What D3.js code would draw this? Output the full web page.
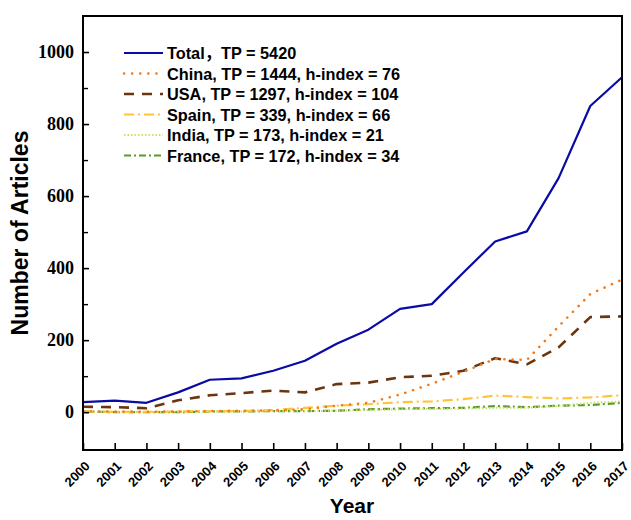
<!DOCTYPE html>
<html>
<head>
<meta charset="utf-8">
<script src="https://cdn.jsdelivr.net/npm/d3@7"></script>
<style>
  html, body { margin: 0; padding: 0; background: #fff; }
  svg { display: block; }
</style>
</head>
<body>
<svg id="chart" width="631" height="520"></svg>
<script>
// Publication counts per year, 2000–2017
const years = [2000, 2001, 2002, 2003, 2004, 2005, 2006, 2007, 2008, 2009,
               2010, 2011, 2012, 2013, 2014, 2015, 2016, 2017];

const total  = [28, 32, 26, 55, 90, 94, 115, 143, 190, 229, 287, 300, 388, 474, 502, 650, 850, 930];
const china  = [2, 2, 1, 2, 3, 4, 5, 8, 18, 26, 49, 79, 112, 148, 145, 238, 328, 368];
const usa    = [15, 14, 11, 33, 47, 53, 60, 55, 78, 82, 97, 101, 115, 150, 133, 180, 264, 266];
const spain  = [2, 1, 1, 2, 3, 3, 6, 12, 18, 22, 28, 30, 36, 46, 42, 38, 41, 47];
const india  = [0, 1, 0, 1, 2, 2, 3, 3, 4, 6, 8, 9, 10, 12, 12, 17, 26, 30];
const france = [2, 0, 0, 0, 2, 2, 3, 3, 4, 8, 10, 11, 12, 17, 14, 18, 20, 26];

const seriesLabels = [
  "Total\uFF0CTP = 5420",
  "China, TP = 1444, h-index = 76",
  "USA, TP = 1297, h-index = 104",
  "Spain, TP = 339, h-index = 66",
  "India, TP = 173, h-index = 21",
  "France, TP = 172, h-index = 34"
];

const yTickValues = [0, 200, 400, 600, 800, 1000];
const yMinorValues = [100, 300, 500, 700, 900];

const series = [
  { name: seriesLabels[0], values: total,  color: "#0a0aa5", width: 2.2, dash: null,        cap: "butt" },
  { name: seriesLabels[1], values: china,  color: "#f07a1c", width: 2.6, dash: "0.1 8",     cap: "round" },
  { name: seriesLabels[2], values: usa,    color: "#6b3510", width: 2.6, dash: "10 8",      cap: "butt" },
  { name: seriesLabels[3], values: spain,  color: "#ffc43a", width: 2.2, dash: "10 4 2 4",  cap: "butt" },
  { name: seriesLabels[4], values: india,  color: "#c9e065", width: 2,   dash: "1.5 2",     cap: "butt" },
  { name: seriesLabels[5], values: france, color: "#5a9a2a", width: 2.2, dash: "7 3 2 3",   cap: "butt" }
];

const margin = { left: 83, right: 9, top: 16, bottom: 70 };
const W = 631, H = 520;
const svg = d3.select("#chart");

const x = d3.scaleLinear()
  .domain([2000, 2017])
  .range([margin.left, W - margin.right]);

const y = d3.scaleLinear()
  .domain([-105, 1100])
  .range([H - margin.bottom, margin.top]);

// Lines
const line = d3.line()
  .x((d, i) => x(years[i]))
  .y(d => y(d));

const plot = svg.append("g");
series.slice().reverse().forEach(s => {
  plot.append("path")
    .datum(s.values)
    .attr("d", line)
    .attr("fill", "none")
    .attr("stroke", s.color)
    .attr("stroke-width", s.width)
    .attr("stroke-dasharray", s.dash)
    .attr("stroke-linecap", s.cap)
    .attr("stroke-linejoin", "round");
});

// Frame
svg.append("rect")
  .attr("x", margin.left)
  .attr("y", margin.top)
  .attr("width", W - margin.left - margin.right)
  .attr("height", H - margin.top - margin.bottom)
  .attr("fill", "none")
  .attr("stroke", "#000")
  .attr("stroke-width", 2);

// Y axis: inward ticks, bold serif labels
const yAxis = svg.append("g")
  .attr("transform", `translate(${margin.left},0)`)
  .call(d3.axisRight(y).tickValues(yTickValues).tickSize(6).tickFormat(d3.format("d")));
yAxis.select(".domain").remove();
yAxis.selectAll(".tick line").attr("stroke", "#000").attr("stroke-width", 1.6);
yAxis.selectAll(".tick text")
  .attr("x", -9)
  .attr("text-anchor", "end")
  .attr("font-family", "'Liberation Serif', 'Times New Roman', serif")
  .attr("font-weight", "bold")
  .attr("font-size", 18)
  .attr("fill", "#000");

const yMinor = svg.append("g")
  .attr("transform", `translate(${margin.left},0)`)
  .call(d3.axisRight(y).tickValues(yMinorValues).tickSize(5).tickFormat(""));
yMinor.select(".domain").remove();
yMinor.selectAll(".tick line").attr("stroke", "#000").attr("stroke-width", 1.4);

// X axis: inward ticks, rotated bold labels
const xAxis = svg.append("g")
  .attr("transform", `translate(0,${H - margin.bottom})`)
  .call(d3.axisTop(x).tickValues(years).tickSize(7).tickFormat(d3.format("d")));
xAxis.select(".domain").remove();
xAxis.selectAll(".tick line").attr("stroke", "#000").attr("stroke-width", 1.6);
xAxis.selectAll(".tick text")
  .attr("x", 0).attr("y", 0).attr("dy", 0)
  .attr("transform", "translate(7,17) rotate(-45)")
  .attr("text-anchor", "end")
  .attr("font-family", "'Liberation Sans', Arial, sans-serif")
  .attr("font-weight", "bold")
  .attr("font-size", 13)
  .attr("fill", "#000");

// Axis titles
svg.append("text")
  .attr("transform", `translate(28,${(margin.top + H - margin.bottom) / 2}) rotate(-90)`)
  .attr("text-anchor", "middle")
  .attr("font-family", "'Liberation Sans', Arial, sans-serif")
  .attr("font-weight", "bold")
  .attr("font-size", 23)
  .text("Number of Articles");

svg.append("text")
  .attr("x", 352)
  .attr("y", 513)
  .attr("text-anchor", "middle")
  .attr("font-family", "'Liberation Sans', Arial, sans-serif")
  .attr("font-weight", "bold")
  .attr("font-size", 21)
  .text("Year");

// Legend
const legend = svg.append("g").attr("transform", "translate(124,53)");
series.forEach((s, i) => {
  const row = legend.append("g").attr("transform", `translate(0,${i * 20.5})`);
  row.append("line")
    .attr("x1", 0).attr("x2", 39)
    .attr("y1", 0).attr("y2", 0)
    .attr("stroke", s.color)
    .attr("stroke-width", s.width)
    .attr("stroke-dasharray", s.dash)
    .attr("stroke-linecap", s.cap);
  row.append("text")
    .attr("x", 43)
    .attr("y", 6)
    .attr("font-family", "'Liberation Sans', Arial, 'Noto Sans CJK SC', sans-serif")
    .attr("font-weight", "bold")
    .attr("font-size", 16.3)
    .attr("fill", "#000")
    .text(s.name);
});
</script>
</body>
</html>
